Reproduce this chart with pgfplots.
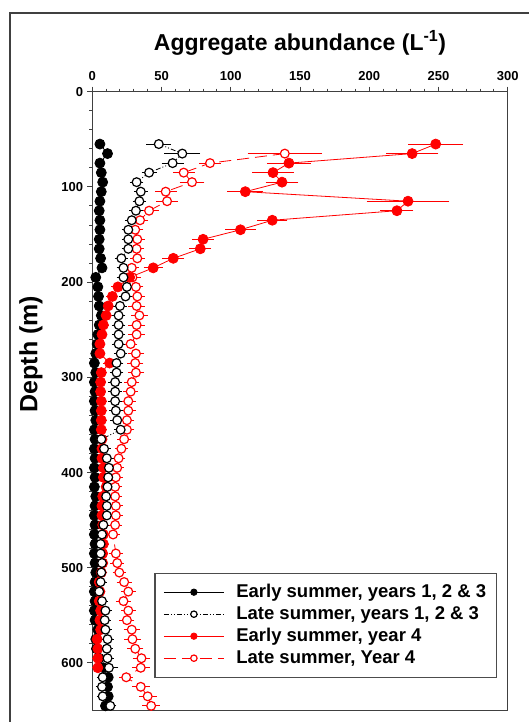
\documentclass[border=0pt]{standalone}
\usepackage{fontspec}
\setmainfont{Liberation Sans}
\usepackage{pgfplots}
\usepackage{pgfplotstable}
\pgfplotsset{compat=1.18}

\pgfplotstableread{
d v
55 5.5
65 11
75 5.5
85 6.5
95 7.5
105 6.5
115 5.5
125 5
135 5.5
145 5.5
155 5
165 5
175 6
185 7
195 2.5
205 4
215 4.5
225 5
235 6.5
245 5
255 4
265 3.5
275 2.5
285 1.5
295 2.5
305 1.5
315 2
325 1.5
335 2
345 2.5
355 1.5
365 2
375 1.5
385 2
395 1.5
405 2
415 1.5
425 2.5
435 2
445 1.5
455 2
465 1.5
475 2
485 1.5
495 2
505 2.5
515 2
525 1.5
535 2
545 1.5
555 2
565 4
575 2.5
585 3
595 5
605 8
615 11.5
625 11
635 11.5
645 9.5
}\dataBF

\pgfplotstableread{
d v e
55 48 6
65 65 10
75 58 5
85 41 2.5
95 32 2
105 35 2
115 34 2
125 31.5 2
135 28.5 2
145 26 2
155 26 2
165 26 2
175 21 2
185 22.5 2
195 22.5 2
205 25 2
215 24 2
225 20 2
235 19 2
245 19 2
255 19 2
265 19 2
275 20.5 2
285 17.5 2
295 17.5 2
305 16.5 2
315 16.5 2
325 16.5 2
335 17 2
345 18 2
355 20.5 2
365 6.5 1.5
375 8.5 2
385 10.5 2
395 12 2
405 11.5 2
415 11 2
425 10 2
435 10.5 2
445 10.5 2
455 8 1.5
465 7 1.5
475 6 1.5
485 6 1.5
495 7 1.5
505 6.5 1.5
515 6 1.5
525 5 1.5
535 7 1.5
545 9.5 1.5
555 9 1.5
565 9.5 1.5
575 11 1.5
585 10.5 1.5
595 11 1.5
605 12 4
615 7.5 1.5
625 7 1.5
635 7.5 1.5
645 13 1.5
}\dataBO

\pgfplotstableread{
d v e
55 248 17
65 231 16
75 142 13
85 130.5 12
95 137 9
105 110.5 10
115 228 27
125 220 9
135 130 8
145 107 8
155 80 5
165 78 5
175 58.5 5
185 44 4
195 27 2
205 18.5 2
215 14.5 1.5
225 11.5 1.5
235 10 1.5
245 8 1
255 7 1
265 5.5 1
275 5.5 1
285 12.5 2
295 6.5 1
305 6 1
315 6 1
325 6.5 1
335 6.5 1
345 6.5 1
355 6.5 1
365 7 1
375 7 1
385 7 1
395 8 1
405 8 1
415 10 1
425 7.5 1
435 7 1
445 7 1
455 7.5 1
465 8 1
475 8 1
485 7.5 1
495 7.5 1
505 6.5 1
515 5 1
525 5.5 1
535 5 1
545 6 1
555 5.5 1
565 6 1
575 3.5 1
585 4 1
595 4 1
605 4 1
}\dataRF

\pgfplotstableread{
d v e
65 139 24
75 85 5
85 66 5
95 72 6
105 53 5
115 54 5
125 41 4
135 34.5 3
145 31 3
155 32.5 2.5
165 32 2.5
175 32.5 2.5
185 28.5 2.5
195 29 3
205 31.5 2.5
215 32.5 2.5
225 32 3
235 34 3
245 32 3
255 32 3
265 27.7 2
275 31.5 3
285 31 3
295 31.5 3
305 28.5 2.5
315 27.7 2.5
325 26 2.5
335 26 2.5
345 25 2.5
355 25 2.5
365 23 2
375 21 2
385 19 2
395 18 2
405 17 2
415 16.5 2
425 16.5 2
435 17 2
445 17 2
455 16.5 2
465 15 2
485 17 2
495 18 2
505 19.5 2
515 23 2.5
525 26 2.5
535 22.5 2.5
545 26 2.5
555 25 2.5
565 28.5 3
575 29 3
585 31 3
595 35.5 3.5
605 35 3.5
615 24.5 2
625 35 3.5
635 40 3.5
645 42.5 3.5
}\dataRO

\pgfplotsset{
  bfs/.style={black, line width=0.8pt, mark=*, mark size=5pt, mark options={solid, fill=black, draw=black}},
  bos/.style={black, line width=0.8pt, dash pattern=on 5pt off 2pt on 1pt off 2pt on 1pt off 2pt, mark=*, mark size=4.4pt, mark options={solid, fill=white, draw=black, line width=1.2pt}},
  rfs/.style={red, line width=0.8pt, mark=*, mark size=5pt, mark options={solid, fill=red, draw=red}},
  ros/.style={red, line width=0.8pt, dash pattern=on 12pt off 6pt, mark=*, mark size=4.4pt, mark options={solid, fill=white, draw=red, line width=1.2pt}},
  ebars/.style={error bars/.cd, x dir=both, x explicit, error bar style={solid, line width=0.8pt}, error mark options={solid, mark size=4pt, line width=0.8pt}},
}

\begin{document}
\begin{tikzpicture}
\begin{axis}[
  at={(0pt,0pt)}, anchor=south west,
  scale only axis, width=415.4pt, height=618.9pt,
  xmin=0, xmax=300, ymin=0, ymax=650, y dir=reverse,
  xtick={0,50,...,300}, ytick={0,100,...,600},
  minor x tick num=4, minor y tick num=4,
  xtick pos=right, xticklabel pos=right, ytick pos=left,
  tick align=outside,
  major tick length=5pt, minor tick length=3pt,
  axis line style={black!75, line width=1.2pt},
  every tick/.style={black!75, line width=1pt},
  tick label style={font=\fontsize{13}{15}\selectfont\bfseries},
  /pgf/number format/assume math mode=true,
  xticklabel style={anchor=base, inner sep=0pt},
  xticklabel shift=6pt,
  yticklabel style={anchor=east, inner sep=0pt},
  yticklabel shift=4pt,
  clip=false,
  legend style={at={(axis description cs:0.975,0.223)}, anchor=north east, draw=black!70, line width=1.2pt,
    font=\fontsize{18.5}{21}\selectfont\bfseries, inner xsep=8.5pt, inner ysep=8pt, row sep=0pt, column sep=10pt,
    nodes={inner sep=2pt, text height=14pt, text depth=4pt}},
  legend cell align=left,
  legend image code/.code={\draw[mark repeat=2, mark phase=2, #1] plot coordinates {(0pt,0pt) (30pt,0pt) (60pt,0pt)};},
  legend image post style={mark size=3.2pt},
]
\addlegendimage{bfs}
\addlegendentry{Early summer, years 1, 2 \& 3}
\addlegendimage{bos}
\addlegendentry{Late summer, years 1, 2 \& 3}
\addlegendimage{rfs}
\addlegendentry{Early summer, year 4}
\addlegendimage{ros}
\addlegendentry{Late summer, Year 4}

\addplot[ros, forget plot, ebars] table[x=v, y=d, x error=e] {\dataRO};
\addplot[bfs, forget plot] table[x=v, y=d] {\dataBF};
\addplot[rfs, forget plot, ebars] table[x=v, y=d, x error=e] {\dataRF};
\addplot[bos, forget plot, ebars] table[x=v, y=d, x error=e] {\dataBO};

\node[font=\fontsize{23}{27}\selectfont\bfseries, anchor=base] at (axis description cs:0.5,1.0663) {Aggregate abundance (L\textsuperscript{-1})};
\node[font=\fontsize{25}{29}\selectfont\bfseries, rotate=90, anchor=center] at (axis description cs:-0.1476,0.576) {Depth (m)};
\end{axis}
\draw[black!75, line width=1.2pt] (-82.3pt,-40pt) -- (-82.3pt,697.6pt) -- (470pt,697.6pt);
\pgfresetboundingbox
\useasboundingbox (-92.3pt,-11.4pt) rectangle (435.7pt,710.6pt);
\end{tikzpicture}
\end{document}
